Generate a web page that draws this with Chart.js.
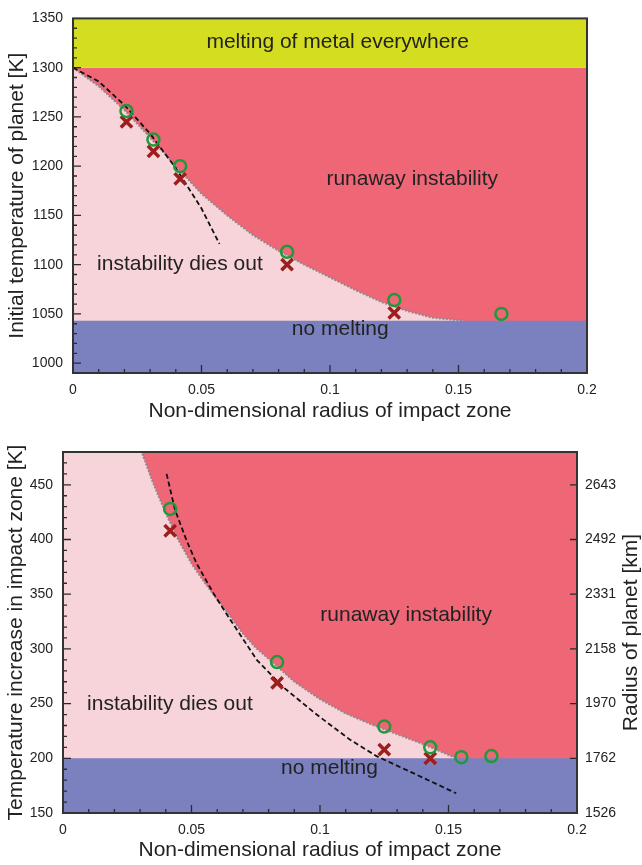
<!DOCTYPE html>
<html>
<head>
<meta charset="utf-8">
<script src="https://cdn.jsdelivr.net/npm/chart.js@4.4.1/dist/chart.umd.min.js"></script>
<style>
html, body { margin: 0; padding: 0; background: #fff; }
#wrap { position: relative; width: 642px; height: 865px; }
.box { position: absolute; left: 0; width: 642px; }
#topBox { top: 0; height: 430px; }
#bottomBox { top: 430px; height: 435px; }
</style>
</head>
<body>
<div id="wrap">
  <div class="box" id="topBox"><canvas id="topChart"></canvas></div>
  <div class="box" id="bottomBox"><canvas id="bottomChart"></canvas></div>
</div>
<script>
// shared x axis
const xTicks = [0, 0.05, 0.1, 0.15, 0.2];
const xTickLabels = ['0', '0.05', '0.1', '0.15', '0.2'];

// ---- top panel: initial temperature of planet ----
const topYTicks = [1000, 1050, 1100, 1150, 1200, 1250, 1300, 1350];
const topMetalMelt = 1300;   // above: melting of metal everywhere
const topNoMelt = 1043;      // below: no melting
const topBoundaryX = [0, 0.01, 0.02, 0.03, 0.04, 0.05, 0.06, 0.07, 0.08, 0.09, 0.1, 0.11, 0.12, 0.13, 0.14, 0.152];
const topBoundaryT = [1300, 1281, 1257, 1229, 1200, 1172, 1150, 1130, 1114, 1100, 1087, 1074, 1062, 1053, 1046, 1043];
const topDashX = [0, 0.01, 0.02, 0.03, 0.04, 0.05, 0.057];
const topDashT = [1300, 1286, 1262, 1233, 1198, 1157, 1121];
const topCircleX = [0.0208, 0.0313, 0.0417, 0.0833, 0.125, 0.1667];
const topCircleT = [1256, 1227, 1200, 1113, 1064, 1050];
const topCrossX = [0.0208, 0.0313, 0.0417, 0.0833, 0.125];
const topCrossT = [1245, 1215, 1187, 1100, 1051];

// ---- bottom panel: temperature increase in impact zone ----
const bottomYTicks = [150, 200, 250, 300, 350, 400, 450];
const radiusLabels = ['1526', '1762', '1970', '2158', '2331', '2492', '2643'];
const bottomTop = 480;
const bottomNoMelt = 200;
const bottomBoundaryX = [0.0306, 0.035, 0.04, 0.045, 0.05, 0.055, 0.06, 0.065, 0.07, 0.075, 0.08, 0.09, 0.1, 0.11, 0.12, 0.13, 0.14, 0.153];
const bottomBoundaryT = [480, 452, 424, 399, 378, 361, 345, 330, 314, 301, 291, 270, 254, 241, 231, 222, 213, 200];
const bottomDashX = [0.0403, 0.0436, 0.0481, 0.052, 0.0585, 0.065, 0.0754, 0.0857, 0.0987, 0.1117, 0.122, 0.1376, 0.153];
const bottomDashT = [460, 427, 399, 378, 351, 327, 290, 265, 240, 217, 202, 185, 168];
const bottomCircleX = [0.0417, 0.0833, 0.125, 0.1429, 0.155, 0.1667];
const bottomCircleT = [428, 288, 229, 210, 201, 202];
const bottomCrossX = [0.0417, 0.0833, 0.125, 0.1429];
const bottomCrossT = [408, 269, 208, 200];

// region labels
const topNotes = [
  { text: 'melting of metal everywhere', x: 0.103, y: 1326 },
  { text: 'runaway instability', x: 0.132, y: 1187 },
  { text: 'instability dies out', x: 0.0416, y: 1100 },
  { text: 'no melting', x: 0.104, y: 1034 }
];
const bottomNotes = [
  { text: 'runaway instability', x: 0.1335, y: 331 },
  { text: 'instability dies out', x: 0.0416, y: 249.5 },
  { text: 'no melting', x: 0.1037, y: 190.5 }
];

const RED = '#ef6677', PINK = '#f6d4d9', BLUE = '#7b80bf', YELLOW = '#d4dd1f';
const GREEN = '#1e9a3c', DARKRED = '#9e1d1d', TEXT = '#222';

Chart.defaults.font.family = '"Liberation Sans", Arial, Helvetica, sans-serif';
Chart.defaults.color = TEXT;

const pts = (xs, ys) => xs.map((x, i) => ({ x: x, y: ys[i] }));
const band = (y) => [{ x: xTicks[0], y: y }, { x: xTicks[xTicks.length - 1], y: y }];

function fillSet(data, color, fill, order) {
  return { data: data, backgroundColor: color, borderWidth: 0, fill: fill, pointRadius: 0, order: order };
}

function markerSets(cx, cy, kx, ky) {
  return [
    { data: pts(kx, ky), showLine: false, pointStyle: 'crossRot', pointRadius: 8,
      pointBorderColor: DARKRED, pointBorderWidth: 3.5, order: 1 },
    { data: pts(cx, cy), showLine: false, pointStyle: 'circle', pointRadius: 6,
      pointBorderColor: GREEN, pointBackgroundColor: 'rgba(0,0,0,0)', pointBorderWidth: 2.5, order: 0 }
  ];
}

function dashSet(xs, ys) {
  return { data: pts(xs, ys), borderColor: '#111', borderWidth: 1.8, borderDash: [5, 3],
    pointRadius: 0, fill: false, order: 2 };
}

// inward tick marks, frame, region labels
const framePlugin = {
  id: 'frame',
  afterDatasetsDraw(chart, args, opts) {
    const { ctx, chartArea: a, scales } = chart;
    const x = scales.x, y = scales.y;
    ctx.save();
    ctx.strokeStyle = '#2a2a2a';
    ctx.lineWidth = 1.3;
    ctx.beginPath();
    let n = Math.round((x.max - x.min) / 0.01);
    for (let i = 1; i < n; i++) {
      const v = x.min + i * 0.01;
      const px = x.getPixelForValue(v);
      const len = (i % 5 === 0) ? 8 : 4;
      ctx.moveTo(px, a.bottom); ctx.lineTo(px, a.bottom - len);
    }
    const start = Math.ceil(y.min / 10) * 10;
    for (let v = start; v < y.max; v += 10) {
      if (v === y.min) continue;
      const py = y.getPixelForValue(v);
      const len = (v % 50 === 0) ? 8 : 4;
      ctx.moveTo(a.left, py); ctx.lineTo(a.left + len, py);
    }
    if (opts.rightTicks) {
      opts.rightTicks.forEach(v => {
        const py = y.getPixelForValue(v);
        ctx.moveTo(a.right, py); ctx.lineTo(a.right - 7, py);
      });
    }
    ctx.stroke();
    ctx.lineWidth = 2;
    ctx.strokeStyle = '#333';
    ctx.strokeRect(a.left, a.top, a.width, a.height);

    ctx.fillStyle = TEXT;
    ctx.font = '21px "Liberation Sans", Arial, sans-serif';
    ctx.textAlign = 'center';
    ctx.textBaseline = 'middle';
    (opts.notes || []).forEach(n => {
      ctx.fillText(n.text, x.getPixelForValue(n.x), y.getPixelForValue(n.y));
    });
    if (opts.rightTitle) {
      ctx.translate(opts.rightTitleX, (a.top + a.bottom) / 2);
      ctx.rotate(-Math.PI / 2);
      ctx.fillText(opts.rightTitle, 0, 0);
    }
    ctx.restore();
  }
};

const titleFont = { size: 21 };
const tickFont = { size: 14 };

function xScale(height, titlePad) {
  return {
    type: 'linear', min: 0, max: 0.2,
    grid: { display: false, drawTicks: false }, border: { display: false },
    afterBuildTicks: s => { s.ticks = xTicks.map(v => ({ value: v })); },
    afterFit: s => { s.height = height; },
    ticks: { font: tickFont, padding: 9, maxRotation: 0, callback: (v, i) => xTickLabels[i] },
    title: { display: true, text: 'Non-dimensional radius of impact zone', font: titleFont,
      padding: { top: 0, bottom: titlePad } }
  };
}

function yScale(min, max, ticks, width, title, titlePad) {
  return {
    type: 'linear', position: 'left', min: min, max: max,
    grid: { display: false, drawTicks: false }, border: { display: false },
    afterBuildTicks: s => { s.ticks = ticks.map(v => ({ value: v })); },
    afterFit: s => { s.width = width; },
    ticks: { font: tickFont, padding: 10, callback: v => String(v) },
    title: { display: true, text: title, font: titleFont, padding: { top: titlePad, bottom: 0 } }
  };
}

const common = {
  responsive: true,
  maintainAspectRatio: false,
  animation: false,
  events: [],
  elements: { line: { tension: 0 } }
};

new Chart(document.getElementById('topChart'), {
  type: 'line',
  data: {
    datasets: [
      fillSet(band(topMetalMelt), RED, 'start', 10),
      { data: pts(topBoundaryX, topBoundaryT), backgroundColor: PINK, fill: 'start',
        borderColor: 'rgba(135,135,135,0.9)', borderWidth: 2, borderDash: [2, 1.5], pointRadius: 0, order: 9 },
      fillSet(band(topNoMelt), BLUE, 'start', 8),
      fillSet(band(topMetalMelt), YELLOW, 'end', 8),
      dashSet(topDashX, topDashT),
      ...markerSets(topCircleX, topCircleT, topCrossX, topCrossT)
    ]
  },
  options: Object.assign({}, common, {
    layout: { padding: { top: 11, right: 55, left: 0, bottom: 0 } },
    scales: {
      x: xScale(57, 6),
      y: yScale(990, 1350, topYTicks, 73, 'Initial temperature of planet [K]', 5)
    },
    plugins: { legend: { display: false }, tooltip: { enabled: false },
      frame: { notes: topNotes } }
  }),
  plugins: [framePlugin]
});

new Chart(document.getElementById('bottomChart'), {
  type: 'line',
  data: {
    datasets: [
      fillSet(band(bottomTop), RED, 'start', 10),
      // pink region: top-left corner plus the stability boundary
      { data: [{ x: 0, y: bottomTop }].concat(pts(bottomBoundaryX, bottomBoundaryT)), backgroundColor: PINK, fill: 'start',
        borderColor: 'rgba(135,135,135,0.9)', borderWidth: 2, borderDash: [2, 1.5], pointRadius: 0, order: 9 },
      fillSet(band(bottomNoMelt), BLUE, 'start', 8),
      dashSet(bottomDashX, bottomDashT),
      ...markerSets(bottomCircleX, bottomCircleT, bottomCrossX, bottomCrossT)
    ]
  },
  options: Object.assign({}, common, {
    layout: { padding: { top: 22, right: 0, left: 0, bottom: 0 } },
    scales: {
      x: xScale(52, 2),
      y: yScale(150, 480, bottomYTicks, 63, 'Temperature increase in impact zone [K]', 4),
      y2: {
        type: 'linear', position: 'right', min: 150, max: 480,
        grid: { display: false, drawTicks: false }, border: { display: false },
        afterBuildTicks: s => { s.ticks = bottomYTicks.map(v => ({ value: v })); },
        afterFit: s => { s.width = 65; },
        ticks: { font: tickFont, padding: 8, callback: (v, i) => radiusLabels[i] }
      }
    },
    plugins: { legend: { display: false }, tooltip: { enabled: false },
      frame: { notes: bottomNotes, rightTicks: bottomYTicks, rightTitle: 'Radius of planet [km]', rightTitleX: 631 } }
  }),
  plugins: [framePlugin]
});
</script>
</body>
</html>
